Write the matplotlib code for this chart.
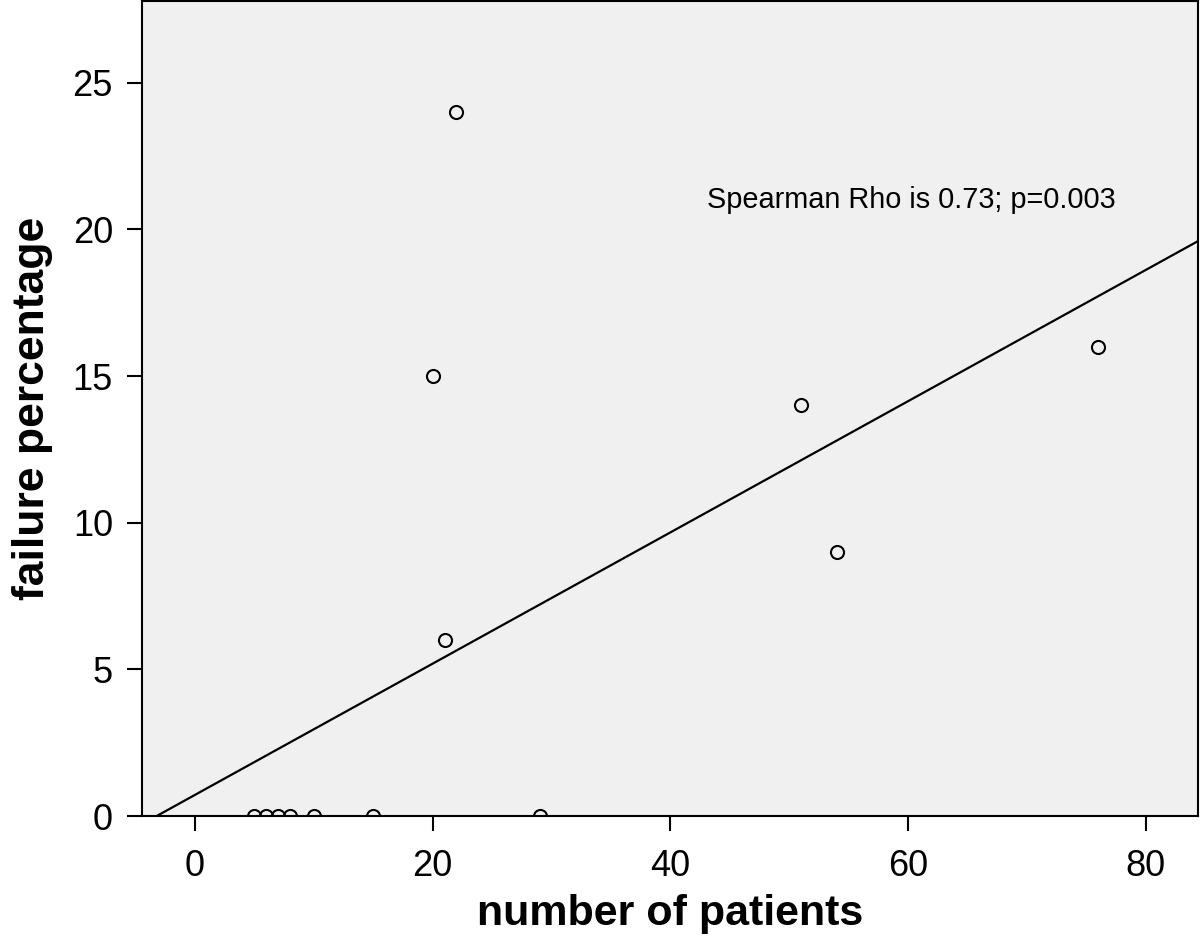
import matplotlib.pyplot as plt

plt.rcParams['font.family'] = ['Liberation Sans', 'DejaVu Sans']

# data
patients = [5, 6, 7, 8, 10, 15, 29, 20, 21, 22, 51, 54, 76]
failure_pct = [0, 0, 0, 0, 0, 0, 0, 15, 6, 24, 14, 9, 16]

# fit line as drawn in the original
fit_slope = 0.2237
fit_intercept = 0.72

x_ticks = [0, 20, 40, 60, 80]
y_ticks = [0, 5, 10, 15, 20, 25]
x_range = (-4.46, 84.4)
y_range = (0, 27.79)

fig = plt.figure(figsize=(12, 9.36), dpi=100)
ax = fig.add_axes([0.1183, 0.1282, 0.88, 0.8708])
ax.set_facecolor('#f0f0f0')

ax.plot(x_range, [fit_intercept + fit_slope * v for v in x_range],
        color='black', lw=1.6, zorder=2)
ax.plot(patients, failure_pct, 'o', mfc='none', mec='black',
        ms=9.4, mew=1.5, zorder=3, clip_on=True)

ax.text(43.1, 21.0, 'Spearman Rho is 0.73; p=0.003', fontsize=20.8,
        va='center', ha='left')

ax.set_xlim(*x_range)
ax.set_ylim(*y_range)
ax.set_xticks(x_ticks)
ax.set_yticks(y_ticks)
ax.tick_params(direction='out', length=11, width=1.5, labelsize=26)
ax.tick_params(axis='x', pad=12.7)
ax.tick_params(axis='y', pad=9.9)
for s in ax.spines.values():
    s.set_linewidth(1.5)

ax.set_xlabel('number of patients', fontsize=31, fontweight='bold', labelpad=7.5)
ax.set_ylabel('failure percentage', fontsize=32, fontweight='bold', labelpad=14)

fig.savefig('out.png', dpi=100)
